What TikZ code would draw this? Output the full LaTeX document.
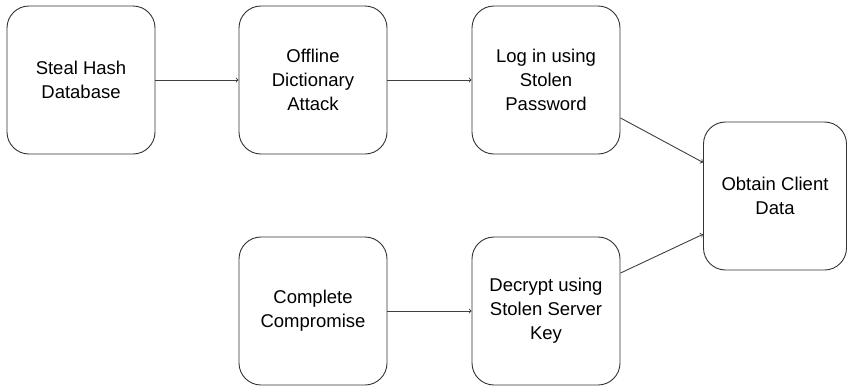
\documentclass[tikz,border=0pt]{standalone}
\usepackage{fontspec}
\setmainfont{Liberation Sans}
\begin{document}
\begin{tikzpicture}[x=1pt,y=-1pt,
    stepbox/.style={draw=black!80,rounded corners=22pt,minimum width=148pt,minimum height=148pt,
        align=center,font=\fontsize{18.5}{24}\selectfont,line width=0.9pt},
    link/.style={->,draw=black!75,line width=0.9pt}]
    \useasboundingbox (0,0) rectangle (847,386);
    \node [stepbox] (steal) at (81,80) {Steal Hash\\Database};
    \node [stepbox] (offline) at (313,80) {Offline\\Dictionary\\Attack};
    \node [stepbox] (login) at (546,80) {Log in using\\Stolen\\Password};
    \node [stepbox,minimum width=143pt] (obtain) at (775,196) {Obtain Client\\Data};
    \node [stepbox] (compromise) at (313,311) {Complete\\Compromise};
    \node [stepbox] (decrypt) at (546,311) {Decrypt using\\Stolen Server\\Key};
    \draw [link] (steal.east) -- (offline.west);
    \draw [link] (offline.east) -- (login.west);
    \draw [link] (compromise.east) -- (decrypt.west);
    \draw [link] (login.-27) -- (obtain.155);
    \draw [link] (decrypt.27) -- (obtain.-152);
\end{tikzpicture}
\end{document}
